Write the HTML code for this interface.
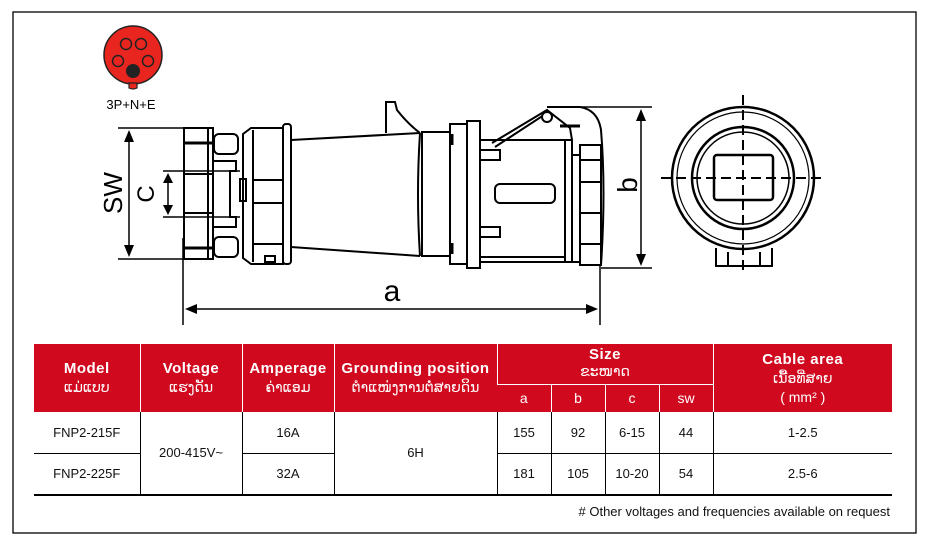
<!DOCTYPE html>
<html><head><meta charset="utf-8"><style>
body{margin:0;width:928px;height:546px;background:#fff;position:relative;overflow:hidden;font-family:"Liberation Sans","DejaVu Sans",sans-serif}
svg{position:absolute;left:0;top:0}
table{position:absolute;left:34px;top:344px;border-collapse:collapse;width:858px;table-layout:fixed}
th{background:#d0091f;color:#fff;font-weight:normal;text-align:center;padding:0;font-size:14px;line-height:19px;border-left:1px solid #fff}
th:first-child{border-left:none}
th b{font-size:15px;font-weight:bold;letter-spacing:0.5px}
td{text-align:center;font-size:13px;color:#111;height:40px;padding:0;border-left:1px solid #000}
td.f{border-left:none}
tr.r1 td{border-bottom:1px solid #000}
tr.r2 td{border-bottom:2px solid #000}
.lao{font-family:"DejaVu Sans",sans-serif;font-size:14px}
</style></head><body>
<svg width="928" height="546" viewBox="0 0 928 546" fill="none" stroke="#000" stroke-width="2">
<rect x="13" y="12" width="903" height="521" stroke-width="1.3"/>
<circle cx="133" cy="55" r="29" fill="#e8261f" stroke="#222" stroke-width="1.5"/>
<path d="M129 83 L129 88 Q133 90 137 88 L137 83 Z" fill="#e8261f" stroke="#222" stroke-width="1.2"/>
<g stroke-width="1.5" stroke="#222"><circle cx="126" cy="44" r="5.5"/><circle cx="141" cy="44" r="5.5"/><circle cx="118" cy="61" r="5.5"/><circle cx="148" cy="61" r="5.5"/></g>
<circle cx="133" cy="71" r="7" fill="#222" stroke="none"/>
<text x="131" y="109" font-size="13" fill="#000" stroke="none" text-anchor="middle" font-family="Liberation Sans">3P+N+E</text>
<g stroke-width="1.5">
<line x1="118" y1="128" x2="212" y2="128"/><line x1="118" y1="259" x2="212" y2="259"/>
<line x1="129" y1="134" x2="129" y2="253"/>
<line x1="163" y1="171" x2="240" y2="171"/><line x1="163" y1="217" x2="240" y2="217"/>
<line x1="168" y1="177" x2="168" y2="211"/>
</g>
<g fill="#000" stroke="none">
<path d="M129 130 l-5 12 h10z"/><path d="M129 257 l-5 -12 h10z"/>
<path d="M168 173 l-5 10 h10z"/><path d="M168 215 l-5 -10 h10z"/>
</g>
<text transform="translate(122,193) rotate(-90)" font-size="26" fill="#000" stroke="none" text-anchor="middle" font-family="Liberation Sans">SW</text>
<text transform="translate(154,194) rotate(-90)" font-size="24" fill="#000" stroke="none" text-anchor="middle" font-family="Liberation Sans">C</text>
<rect x="184" y="128" width="29" height="131"/>
<line x1="184" y1="143" x2="213" y2="143" stroke-width="3"/>
<line x1="184" y1="174" x2="213" y2="174"/><line x1="184" y1="213" x2="213" y2="213"/>
<line x1="184" y1="248" x2="213" y2="248" stroke-width="3"/>
<line x1="208" y1="128" x2="208" y2="259"/>
<rect x="214" y="134" width="24" height="20" rx="5"/><rect x="214" y="237" width="24" height="20" rx="5"/>
<path d="M214 161 h22 v10 h-6 v46 h6 v10 h-22"/>
<rect x="240" y="179" width="6" height="22"/>
<path d="M243 134 l8 -6 h32 v136 h-32 l-8 -6 z"/>
<rect x="283" y="124" width="8" height="140" rx="3"/>
<line x1="253" y1="130" x2="253" y2="262"/>
<line x1="253" y1="180" x2="283" y2="180"/><line x1="253" y1="203" x2="283" y2="203"/>
<line x1="253" y1="244" x2="283" y2="244"/>
<rect x="265" y="256" width="10" height="6"/>
<path d="M291 140 L420 133 M291 247 L420 256"/>
<path d="M386 133 V102 h9 L397 110 Q408 124 420 133"/>
<path d="M420 133 Q416 194 420 256"/>
<rect x="422" y="132" width="28" height="124"/>
<rect x="450" y="124" width="17" height="140"/>
<rect x="467" y="121" width="13" height="147"/>
<line x1="452" y1="134" x2="452" y2="145" stroke-width="3"/><line x1="452" y1="243" x2="452" y2="254" stroke-width="3"/>
<path d="M480 140 H565 M480 257 H565 M480 262 H565"/>
<rect x="480" y="150" width="20" height="10"/><rect x="480" y="227" width="20" height="10"/>
<rect x="495" y="184" width="60" height="19" rx="5"/>
<path d="M492 143 L547 110 L570 128 L572 140"/>
<path d="M495 147 L547 113"/>
<circle cx="547" cy="117" r="5" fill="#fff"/>
<path d="M547 107 H580 Q598 110 601 130 Q606 190 601 265 H585"/>
<rect x="565" y="140" width="7" height="122"/>
<rect x="572" y="155" width="8" height="107"/>
<rect x="580" y="145" width="21" height="120"/>
<line x1="580" y1="160" x2="601" y2="160"/><line x1="580" y1="182" x2="601" y2="182"/><line x1="580" y1="213" x2="601" y2="213"/><line x1="580" y1="244" x2="601" y2="244"/>
<line x1="560" y1="126" x2="580" y2="126" stroke-width="3"/>
<g stroke-width="1.5">
<line x1="560" y1="107" x2="652" y2="107"/><line x1="601" y1="268" x2="652" y2="268"/>
<line x1="641" y1="113" x2="641" y2="262"/>
</g>
<g fill="#000" stroke="none"><path d="M641 109 l-5 12 h10z"/><path d="M641 266 l-5 -12 h10z"/></g>
<text transform="translate(637,185) rotate(-90)" font-size="28" fill="#000" stroke="none" text-anchor="middle" font-family="Liberation Sans">b</text>
<g stroke-width="1.5">
<line x1="183" y1="238" x2="183" y2="325"/><line x1="600" y1="265" x2="600" y2="325"/>
<line x1="190" y1="309" x2="593" y2="309"/>
</g>
<g fill="#000" stroke="none"><path d="M185 309 l12 -5 v10z"/><path d="M598 309 l-12 -5 v10z"/></g>
<text x="392" y="301" font-size="30" fill="#000" stroke="none" text-anchor="middle" font-family="Liberation Sans">a</text>
<circle cx="743" cy="178" r="71" stroke-width="2.5"/>
<circle cx="743" cy="178" r="66" stroke-width="1.2"/>
<circle cx="743" cy="178" r="51" stroke-width="2.5"/>
<circle cx="743" cy="178" r="46" stroke-width="1.5"/>
<rect x="714" y="155" width="59" height="45" rx="3" stroke-width="2.5"/>
<path d="M716 248 v18 h56 v-18 M728 252 v14 M760 252 v14" stroke-width="2"/>
<g stroke-width="2" stroke-dasharray="10,5">
<line x1="661" y1="178" x2="826" y2="178"/><line x1="743" y1="95" x2="743" y2="272"/>
</g>
</svg>
<table>
<colgroup><col style="width:106px"><col style="width:102px"><col style="width:92px"><col style="width:163px"><col style="width:54px"><col style="width:54px"><col style="width:54px"><col style="width:54px"><col style="width:179px"></colgroup>
<tr style="height:40px"><th rowspan="2" style="height:68px"><b>Model</b><br><span class="lao">ແມ່ແບບ</span></th><th rowspan="2"><b>Voltage</b><br><span class="lao">ແຮງດັນ</span></th><th rowspan="2"><b>Amperage</b><br><span class="lao">ຄ່າແອມ</span></th><th rowspan="2"><b>Grounding position</b><br><span class="lao">ຕຳແໜ່ງການຕໍ່ສາຍດິນ</span></th><th colspan="4" style="border-bottom:1px solid #fff;line-height:17px"><b>Size</b><br><span class="lao">ຂະໜາດ</span></th><th rowspan="2" style="line-height:18px"><b>Cable area</b><br><span class="lao">ເນື້ອທີ່ສາຍ</span><br>( mm² )</th></tr>
<tr style="height:28px"><th>a</th><th>b</th><th>c</th><th>sw</th></tr>
<tr class="r1" style="height:41px"><td class="f">FNP2-215F</td><td rowspan="2" style="border-bottom:2px solid #000">200-415V~</td><td>16A</td><td rowspan="2" style="border-bottom:2px solid #000">6H</td><td>155</td><td>92</td><td>6-15</td><td>44</td><td>1-2.5</td></tr>
<tr class="r2" style="height:41px"><td class="f">FNP2-225F</td><td>32A</td><td>181</td><td>105</td><td>10-20</td><td>54</td><td>2.5-6</td></tr>
</table>
<div style="position:absolute;right:38px;top:504px;font-size:13px;color:#111">#&nbsp;Other voltages and frequencies available on request</div>
</body></html>
